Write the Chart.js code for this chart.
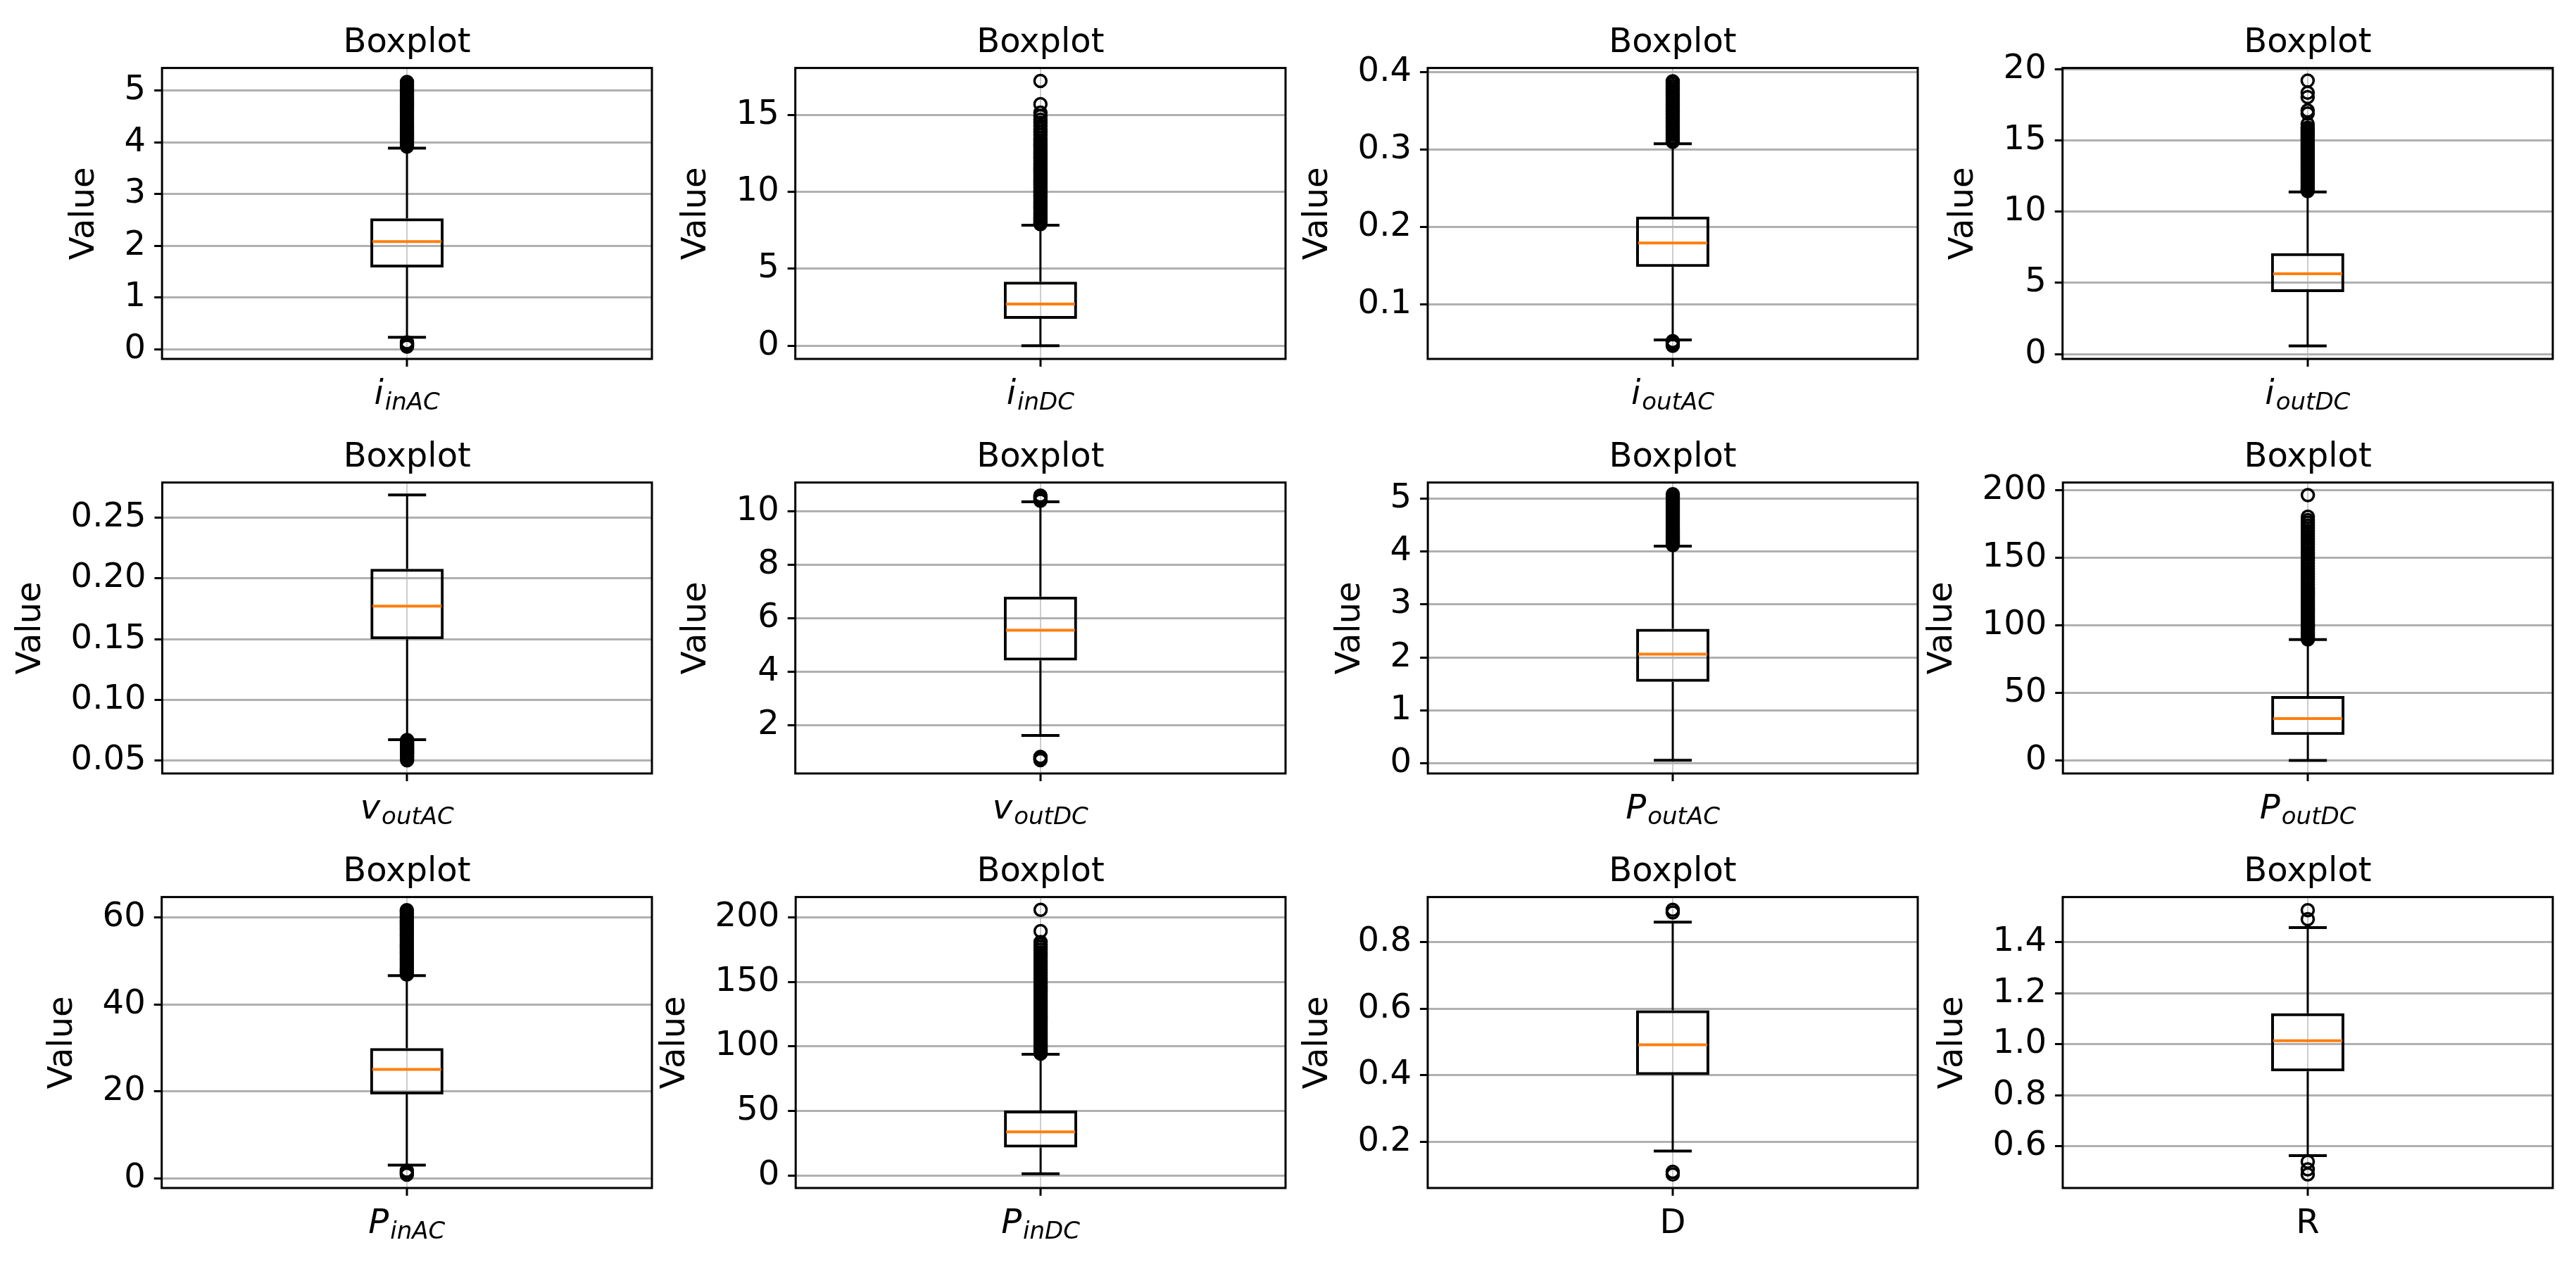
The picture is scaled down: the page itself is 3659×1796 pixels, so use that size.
<!DOCTYPE html>
<html>
<head>
<meta charset="utf-8">
<title>Boxplots</title>
<script src="https://cdn.jsdelivr.net/npm/chart.js@4.4.0/dist/chart.umd.min.js"></script>
<style>
  html, body { margin: 0; padding: 0; background: #ffffff; }
  body { position: relative; width: 3659px; height: 1796px; overflow: hidden; }
  canvas { position: absolute; }
</style>
</head>
<body>
<script>
// variable names under each box: main letter + subscript
const labelMain = ['i', 'i', 'i', 'i', 'v', 'v', 'P', 'P', 'P', 'P', 'D', 'R'];
const labelSub = ['inAC', 'inDC', 'outAC', 'outDC', 'outAC', 'outDC', 'outAC', 'outDC', 'inAC', 'inDC', '', ''];

// box statistics
const q1 = [1.58, 1.75, 0.1486, 4.35, 0.150, 4.42, 1.54, 18.9, 19.35, 21.6, 0.400, 0.894];
const median = [2.08, 2.71, 0.1795, 5.64, 0.1772, 5.55, 2.06, 31.1, 25.1, 33.7, 0.491, 1.0137];
const q3 = [2.53, 4.16, 0.2135, 7.09, 0.208, 6.81, 2.54, 47.7, 29.96, 50.3, 0.595, 1.1216];
const whiskerLow = [0.23, 0.0, 0.0545, 0.57, 0.0671, 1.61, 0.06, 0.0, 3.1, 1.26, 0.1716, 0.564];
const whiskerHigh = [3.89, 7.84, 0.3076, 11.39, 0.2689, 10.36, 4.10, 89.5, 46.65, 94.0, 0.86, 1.457];

// axis ranges and tick spacing
const yMin = [-0.19, -0.86, 0.030, -0.34, 0.0393, 0.19, -0.19, -9.6, -2.17, -9.8, 0.0605, 0.437];
const yMax = [5.44, 18.06, 0.4052, 20.09, 0.2791, 11.08, 5.30, 205.8, 64.7, 215.9, 0.9354, 1.5765];
const yStep = [1, 5, 0.1, 5, 0.05, 2, 1, 50, 20, 50, 0.2, 0.2];
const yDecimals = [0, 0, 1, 0, 2, 0, 0, 0, 0, 0, 1, 1];

// outliers
const fliersIinAC = [0.05, 0.07, 0.09, 0.11, 0.13, 3.92, 3.96, 4.00, 4.04, 4.08, 4.12, 4.16, 4.20, 4.24, 4.28,
  4.32, 4.36, 4.40, 4.44, 4.48, 4.52, 4.56, 4.60, 4.64, 4.68, 4.72, 4.76, 4.80, 4.84, 4.88, 4.92, 4.96, 5.00,
  5.04, 5.08, 5.12, 5.17];
const fliersIinDC = [7.90, 8.00, 8.13, 8.26, 8.39, 8.52, 8.65, 8.78, 8.91, 9.04, 9.17, 9.30, 9.43, 9.56, 9.69,
  9.82, 9.95, 10.08, 10.21, 10.34, 10.47, 10.60, 10.73, 10.86, 10.99, 11.12, 11.25, 11.38, 11.51, 11.64, 11.77,
  11.90, 12.03, 12.16, 12.29, 12.42, 12.55, 12.68, 12.81, 12.94, 13.07, 13.20, 13.35, 13.50, 13.70, 13.90,
  14.10, 14.30, 14.50, 14.70, 14.93, 15.16, 15.71, 17.22];
const fliersIoutAC = [0.047, 0.049, 0.051, 0.053, 0.310, 0.313, 0.316, 0.319, 0.322, 0.325, 0.328, 0.331,
  0.334, 0.337, 0.340, 0.343, 0.346, 0.349, 0.352, 0.355, 0.358, 0.361, 0.364, 0.367, 0.370, 0.373, 0.376,
  0.379, 0.382, 0.385, 0.388];
const fliersIoutDC = [11.45, 11.55, 11.70, 11.85, 12.00, 12.15, 12.30, 12.45, 12.60, 12.75, 12.90, 13.05,
  13.20, 13.35, 13.50, 13.65, 13.80, 13.95, 14.10, 14.25, 14.40, 14.55, 14.70, 14.85, 15.00, 15.15, 15.30,
  15.45, 15.60, 15.75, 15.90, 16.15, 16.90, 17.10, 18.05, 18.35, 19.20];
const fliersVoutAC = [0.0502, 0.0519, 0.0536, 0.0553, 0.0570, 0.0587, 0.0604, 0.0621, 0.0638, 0.0655, 0.0668];
const fliersVoutDC = [0.69, 0.73, 0.77, 0.81, 10.40, 10.47, 10.53, 10.59];
const fliersPoutAC = [4.12, 4.16, 4.20, 4.24, 4.28, 4.32, 4.36, 4.40, 4.44, 4.48, 4.52, 4.56, 4.60, 4.64, 4.68,
  4.72, 4.76, 4.80, 4.84, 4.88, 4.92, 4.96, 5.00, 5.04, 5.08];
const fliersPoutDC = [89.6, 90.5, 92.0, 93.5, 95.0, 96.5, 98.0, 99.5, 101.0, 102.5, 104.0, 105.5, 107.0, 108.5,
  110.0, 111.5, 113.0, 114.5, 116.0, 117.5, 119.0, 120.5, 122.0, 123.5, 125.0, 126.5, 128, 130, 132, 134, 136,
  138, 140, 142, 144, 146, 148, 150, 152, 154, 156, 158, 160, 162, 164, 166, 168, 170, 172, 174, 176, 178,
  180.5, 196.5];
const fliersPinAC = [0.9, 1.2, 1.5, 1.8, 46.9, 47.4, 47.9, 48.4, 48.9, 49.4, 49.9, 50.4, 50.9, 51.4, 51.9, 52.4,
  52.9, 53.4, 53.9, 54.4, 54.9, 55.4, 55.9, 56.4, 56.9, 57.4, 57.9, 58.4, 58.9, 59.4, 59.9, 60.4, 60.9, 61.4, 61.7];
const fliersPinDC = [94.5, 95.9, 97.5, 99.1, 100.7, 102.3, 103.9, 105.5, 107.1, 108.7, 110.3, 111.9, 113.5,
  115.1, 116.7, 118.3, 119.9, 121.5, 123.1, 124.7, 126.3, 127.9, 129.5, 131.1, 132.7, 134.3, 135.9, 137.5,
  139.1, 140.7, 142.3, 143.9, 145.5, 147, 149, 151, 153, 155, 157, 159, 161, 163, 165, 167, 169, 171, 173,
  175, 177, 179, 181, 189.5, 206];
const fliersD = [0.101, 0.109, 0.889, 0.897];
const fliersR = [0.49, 0.51, 0.54, 1.49, 1.525];

const fliers = [fliersIinAC, fliersIinDC, fliersIoutAC, fliersIoutDC, fliersVoutAC, fliersVoutDC,
  fliersPoutAC, fliersPoutDC, fliersPinAC, fliersPinDC, fliersD, fliersR];

// where each plot area sits on the page
const axLeft = [230, 1130, 2028, 2930];
const axTop = [97, 686, 1275];
const axW = 696;
const axH = 413;

Chart.defaults.font.family = "'DejaVu Sans', sans-serif";
Chart.defaults.color = '#000';

function boxPlugin(k) {
  return {
    id: 'boxparts' + k,
    beforeDatasetsDraw: function (chart) {
      const ctx = chart.ctx;
      const y = chart.scales.y;
      const cx = chart.scales.x.getPixelForValue(0);
      const yLo = y.getPixelForValue(whiskerLow[k]);
      const yHi = y.getPixelForValue(whiskerHigh[k]);
      ctx.save();
      ctx.strokeStyle = '#000';
      ctx.lineWidth = 3;
      ctx.beginPath();
      ctx.moveTo(cx, y.getPixelForValue(q3[k]));
      ctx.lineTo(cx, yHi);
      ctx.moveTo(cx, y.getPixelForValue(q1[k]));
      ctx.lineTo(cx, yLo);
      ctx.stroke();
      ctx.lineWidth = 4;
      ctx.beginPath();
      ctx.moveTo(cx - 27, yHi);
      ctx.lineTo(cx + 27, yHi);
      ctx.moveTo(cx - 27, yLo);
      ctx.lineTo(cx + 27, yLo);
      ctx.stroke();
      ctx.restore();
    },
    afterDatasetsDraw: function (chart) {
      const ctx = chart.ctx;
      const bar = chart.getDatasetMeta(0).data[0];
      const ym = chart.scales.y.getPixelForValue(median[k]);
      const half = bar.width / 2 - 3;
      ctx.save();
      ctx.strokeStyle = '#ff7f0e';
      ctx.lineWidth = 4;
      ctx.beginPath();
      ctx.moveTo(bar.x - half, ym);
      ctx.lineTo(bar.x + half, ym);
      ctx.stroke();
      ctx.restore();
    },
    afterDraw: function (chart) {
      const ctx = chart.ctx;
      const a = chart.chartArea;
      ctx.save();
      ctx.strokeStyle = '#000';
      ctx.lineWidth = 3;
      ctx.strokeRect(a.left, a.top, a.right - a.left, a.bottom - a.top);

      // x tick label, with subscript where needed
      const cx = chart.scales.x.getPixelForValue(0);
      const base = a.bottom + 64;
      ctx.fillStyle = '#000';
      ctx.textBaseline = 'alphabetic';
      ctx.textAlign = 'left';
      if (labelSub[k]) {
        const f1 = "italic 48px 'DejaVu Sans'";
        const f2 = "italic 34px 'DejaVu Sans'";
        ctx.font = f1;
        const w1 = ctx.measureText(labelMain[k]).width;
        ctx.font = f2;
        const w2 = ctx.measureText(labelSub[k]).width;
        const x0 = cx - (w1 + w2 + 2) / 2;
        ctx.font = f1;
        ctx.fillText(labelMain[k], x0, base);
        ctx.font = f2;
        ctx.fillText(labelSub[k], x0 + w1 + 2, base + 8);
      } else {
        ctx.font = "48px 'DejaVu Sans'";
        ctx.textAlign = 'center';
        ctx.fillText(labelMain[k], cx, base);
      }
      ctx.restore();
    }
  };
}

function makeChart(k, canvas) {
  const name = labelMain[k] + labelSub[k];
  return new Chart(canvas.getContext('2d'), {
    type: 'bar',
    data: {
      labels: [name],
      datasets: [
        {
          type: 'bar',
          data: [[q1[k], q3[k]]],
          backgroundColor: 'rgba(0,0,0,0)',
          borderColor: '#000',
          borderWidth: 4,
          borderSkipped: false,
          inflateAmount: 0,
          barThickness: 104,
          order: 2
        },
        {
          type: 'scatter',
          data: fliers[k].map(function (v) { return {x: name, y: v}; }),
          pointRadius: 8.5,
          pointBorderWidth: 3.5,
          pointBorderColor: '#000',
          pointBackgroundColor: 'rgba(0,0,0,0)',
          order: 1
        }
      ]
    },
    options: {
      responsive: false,
      animation: false,
      devicePixelRatio: 1,
      events: [],
      layout: { padding: { left: 4, right: 12, top: 0, bottom: 84 } },
      plugins: {
        legend: { display: false },
        tooltip: { enabled: false },
        title: {
          display: true,
          text: 'Boxplot',
          fullSize: false,
          color: '#000',
          font: { size: 48, weight: 'normal' },
          padding: { top: 4, bottom: 6 }
        }
      },
      scales: {
        x: {
          offset: true,
          border: { display: false },
          grid: { offset: false, color: '#cccccc', lineWidth: 2, tickColor: '#000', tickWidth: 3, tickLength: 11 },
          ticks: { display: false }
        },
        y: {
          min: yMin[k],
          max: yMax[k],
          border: { display: false },
          grid: { color: '#b0b0b0', lineWidth: 3, tickColor: '#000', tickWidth: 3, tickLength: 11 },
          ticks: {
            stepSize: yStep[k],
            includeBounds: false,
            autoSkip: false,
            padding: 12,
            color: '#000',
            font: { size: 48 },
            callback: function (v) { return Number(v).toFixed(yDecimals[k]); }
          },
          title: {
            display: true,
            text: 'Value',
            color: '#000',
            font: { size: 48 },
            padding: { top: 0, bottom: 15 }
          }
        }
      }
    },
    plugins: [boxPlugin(k)]
  });
}

function setSize(cv, w, h) {
  cv.width = w;
  cv.height = h;
  cv.style.width = w + 'px';
  cv.style.height = h + 'px';
}

for (let k = 0; k < 12; k++) {
  const cv = document.createElement('canvas');
  document.body.appendChild(cv);
  setSize(cv, 1100, 700);
  // first pass only to learn how much room the axes take
  let probe = makeChart(k, cv);
  const a = probe.chartArea;
  const L = Math.round(a.left);
  const T = Math.round(a.top);
  const R = Math.round(1100 - a.right);
  const B = Math.round(700 - a.bottom);
  probe.destroy();
  setSize(cv, L + axW + R, T + axH + B);
  cv.style.left = (axLeft[k % 4] - L) + 'px';
  cv.style.top = (axTop[Math.floor(k / 4)] - T) + 'px';
  makeChart(k, cv);
}
</script>
</body>
</html>
